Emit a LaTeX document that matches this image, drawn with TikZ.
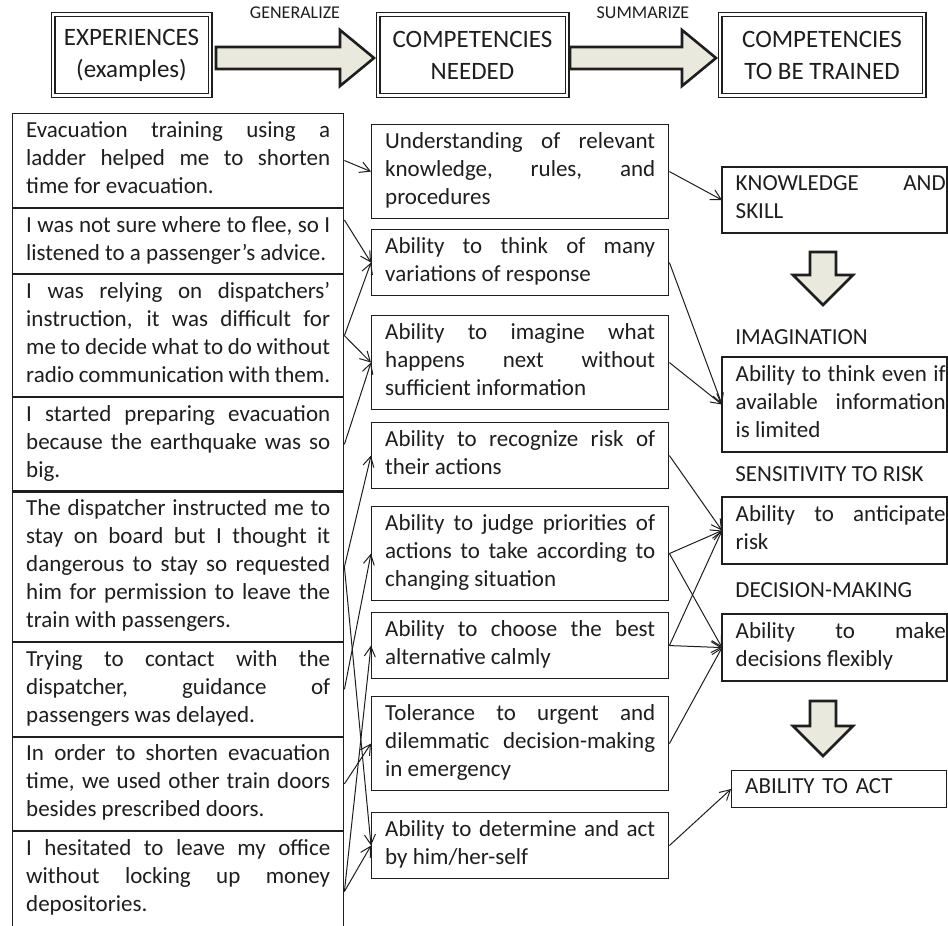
\documentclass[tikz,border=0pt]{standalone}
\usepackage{fontspec}
\setmainfont{Carlito}
\usetikzlibrary{arrows.meta, positioning}
\definecolor{encre}{HTML}{1E1E1E}
\definecolor{beige}{HTML}{E9E9DE}
\hyphenpenalty=10000
\tolerance=9999
\hbadness=10000

\tikzset{
  cadre/.style={draw=encre, double, double distance=1.3pt, line width=0.6pt, align=center,
    minimum height=40.5pt, inner sep=0pt, font=\fontsize{12.5}{16}\selectfont},
  pleine/.style={draw=encre, line width=1.3pt, fill=beige, line join=miter},
  exp/.style={draw=encre, line width=0.7pt, text width=152pt, inner xsep=6.75pt, inner ysep=4pt,
    align=justify, execute at begin node={\rule[-0.25em]{0pt}{0.75em}},
    execute at end node={\rule[-0.25em]{0pt}{0.75em}}},
  comp/.style={exp, text width=135pt},
  cible/.style={exp, draw=none, text width=105pt, inner xsep=6.5pt},
  rubrique/.style={anchor=west, inner sep=0pt},
  etiquette/.style={font=\fontsize{9}{10}\selectfont, inner sep=0pt},
  fil/.style={draw=encre, line width=0.5pt, -{Straight Barb[length=5pt, width=5.5pt]}},
}

% fleches pleines : depart, pointe, axe
\newcommand{\flecheH}[3]{%
  \draw[pleine] (#1,#3-11) -- (#2-34,#3-11) -- (#2-34,#3-28) -- (#2,#3)
    -- (#2-34,#3+28) -- (#2-34,#3+11) -- (#1,#3+11) -- cycle;}
\newcommand{\flecheB}[3]{%
  \draw[pleine] (#1-13,#2) -- (#1+13,#2) -- (#1+13,#3-30) -- (#1+30,#3-30)
    -- (#1,#3) -- (#1-30,#3-30) -- (#1-13,#3-30) -- cycle;}

\begin{document}
\begin{tikzpicture}[x=0.5pt, y=-0.5pt, font=\fontsize{11.5}{14}\selectfont, text=encre]
  \path[use as bounding box, fill=white] (0,0) rectangle (948,926);

  % En-tete
  \node[cadre, minimum width=78.5pt] (h1) at (131.5,55) {EXPERIENCES\\(examples)};
  \node[cadre, minimum width=94.5pt] (h2) at (472.5,55) {COMPETENCIES\\NEEDED};
  \node[cadre, minimum width=102pt] (h3) at (822,55) {COMPETENCIES\\TO BE TRAINED};
  \flecheH{216}{374}{58}
  \flecheH{570}{716}{58}
  \node[etiquette] (gen) at (295,13) {GENERALIZE};
  \node[etiquette] (sum) at (643,13) {SUMMARIZE};

  % Experiences
  \node[exp, anchor=north west] (L1) at (12,113) {Evacuation training using a\linebreak ladder helped me to shorten\linebreak time for evacuation.};
  \node[exp, below=-0.3pt of L1] (L2) {I was not sure where to flee, so I\linebreak listened to a passenger’s advice.};
  \node[exp, below=-0.3pt of L2] (L3) {I was relying on dispatchers’\linebreak instruction, it was difficult for\linebreak me to decide what to do without\linebreak radio communication with them.};
  \node[exp, below=-0.3pt of L3] (L4) {I started preparing evacuation\linebreak because the earthquake was so\linebreak big.};
  \node[exp, below=-0.3pt of L4] (L5) {The dispatcher instructed me to\linebreak stay on board but I thought it\linebreak dangerous to stay so requested\linebreak him for permission to leave the\linebreak train with passengers.};
  \node[exp, below=-0.3pt of L5] (L6) {Trying to contact with the\linebreak dispatcher, guidance of\linebreak passengers was delayed.};
  \node[exp, below=-0.3pt of L6] (L7) {In order to shorten evacuation\linebreak time, we used other train doors\linebreak besides prescribed doors.};
  \node[exp, below=-0.3pt of L7, execute at end node={\rule[-16pt]{0pt}{1pt}}] (L8) {I hesitated to leave my office\linebreak without locking up money\linebreak depositories.};

  % Competences
  \foreach \nom/\y/\txt in {
    M1/124/{Understanding of relevant\linebreak knowledge, rules, and\linebreak procedures},
    M2/229/{Ability to think of many\linebreak variations of response},
    M3/315/{Ability to imagine what\linebreak happens next without\linebreak sufficient information},
    M4/422/{Ability to recognize risk of\linebreak their actions},
    M5/506/{Ability to judge priorities of\linebreak actions to take according to\linebreak changing situation},
    M6/612/{Ability to choose the best\linebreak alternative calmly},
    M7/696/{Tolerance to urgent and\linebreak dilemmatic decision-making\linebreak in emergency},
    M8/812/{Ability to determine and act\linebreak by him/her-self}}
    \node[comp, anchor=north west] (\nom) at (371,\y) {\txt};

  % Competences a former
  \node[cible, anchor=north west] (r1) at (722,167) {KNOWLEDGE AND\linebreak SKILL};
  \node[rubrique] (imag) at (735,337) {IMAGINATION};
  \node[cible, anchor=north west] (r2) at (722,357) {Ability to think even if\linebreak available information\linebreak is limited};
  \node[rubrique] (sens) at (735,474) {SENSITIVITY TO RISK};
  \node[cible, anchor=north west] (r3) at (722,497) {Ability to anticipate\linebreak risk};
  \node[rubrique] (deci) at (735,590) {DECISION-MAKING};
  \node[cible, anchor=north west] (r4) at (722,614) {Ability to make\linebreak decisions flexibly};
  \node[exp, text width=94pt, align=left, anchor=north west] (r5) at (731,770) {ABILITY TO ACT};
  \coordinate (bord) at (947,0);
  \foreach \r in {r1,r2,r3,r4}
    \draw[encre, line width=0.7pt] (\r.north west) rectangle (\r.south east -| bord);
  \flecheB{823}{252}{305}
  \flecheB{823}{701}{756}

  % Liens
  \draw[fil] ([yshift=10.5pt]L2.east) -- (M2.west);
  \foreach \a/\b in {L1/M1, L3/M2, L3/M3, L4/M3, L5/M4, L5/M8, L6/M5, L7/M7, L8/M6, L8/M8}
    \draw[fil] (\a.east) -- (\b.west);
  \foreach \a/\b in {M1/r1, M2/r2, M3/r2, M4/r3, M5/r3, M5/r4, M6/r3, M6/r4, M7/r4, M8/r5}
    \draw[fil] (\a.east) -- (\b.west);
\end{tikzpicture}
\end{document}
